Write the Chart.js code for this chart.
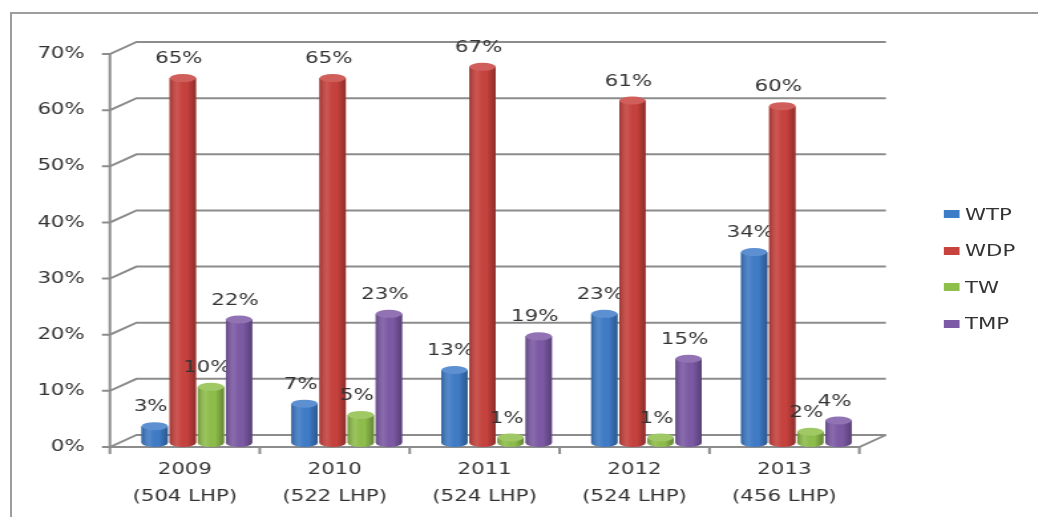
<!DOCTYPE html>
<html>
<head>
<meta charset="utf-8">
<title>WTP / WDP / TW / TMP 2009-2013</title>
<script src="https://cdn.jsdelivr.net/npm/chart.js@4.4.0/dist/chart.umd.min.js"></script>
<style>
    html, body { margin: 0; padding: 0; background: #fff; overflow: hidden; }
    body { width: 1038px; height: 517px; position: relative; font-family: 'DejaVu Sans', Verdana, sans-serif; }
    #frame { position: absolute; left: 10px; top: 12px; width: 1100px; height: 600px;
             border-left: 2px solid #9d9d9d; border-top: 2px solid #9d9d9d; }
    /* the source picture is stretched sideways, so the whole chart is too */
    #stage { position: absolute; left: 0; top: 0; width: 781px; height: 517px;
             transform-origin: 0 0; transform: scaleX(1.329); }
    #legend { position: absolute; left: 709.5px; top: 195.75px; margin: 0; padding: 0; list-style: none; }
    #legend li { height: 36.5px; display: flex; align-items: center; font-size: 16px; color: #333; }
    #legend span.box { width: 12.8px; height: 8px; margin-right: 3.8px; display: inline-block; }
</style>
</head>
<body>
<div id="frame"></div>
<div id="stage">
    <canvas id="chart" width="781" height="517"></canvas>
    <ul id="legend"></ul>
</div>
<script>
// data
const years = ['2009', '2010', '2011', '2012', '2013'];
const plants = ['(504 LHP)', '(522 LHP)', '(524 LHP)', '(524 LHP)', '(456 LHP)'];
const wtp = [3, 7, 13, 23, 34];
const wdp = [65, 65, 67, 61, 60];
const tw = [10, 5, 1, 1, 2];
const tmp = [22, 23, 19, 15, 4];
const yTicks = [0, 10, 20, 30, 40, 50, 60, 70];

const seriesNames = ['WTP', 'WDP', 'TW', 'TMP'];
const seriesValues = [wtp, wdp, tw, tmp];
const seriesColors = ['#3f7cc8', '#c8423e', '#8fbf4b', '#7d5aa6'];

// 3D look (canvas units, x is later stretched by 1.329)
const DEPTH_X = 20;
const DEPTH_Y = 12;
const BAR_SHIFT_X = 9;
const BAR_SHIFT_Y = -4;
const CAP = 4;
const TEXT = '#333';
const FONT = "'DejaVu Sans', Verdana, sans-serif";

Chart.defaults.font.family = FONT;

function lighten(hex, amt) {
    const n = parseInt(hex.slice(1), 16);
    const r = (n >> 16) & 255, g = (n >> 8) & 255, b = n & 255;
    const f = c => Math.round(c + (255 - c) * amt);
    return `rgb(${f(r)}, ${f(g)}, ${f(b)})`;
}

// back wall grid + floor, then shift the bars into the depth
const wallPlugin = {
    id: 'wall',
    beforeDatasetsDraw(chart) {
        const ctx = chart.ctx;
        const ys = chart.scales.y, xs = chart.scales.x;
        const { left, right } = chart.chartArea;
        ctx.save();
        ctx.strokeStyle = '#8c8c8c';
        ctx.lineWidth = 2;
        yTicks.forEach(v => {
            const y = ys.getPixelForValue(v);
            ctx.beginPath();
            ctx.moveTo(left - 6, y);
            ctx.lineTo(left, y);
            ctx.lineTo(left + DEPTH_X, y - DEPTH_Y);
            ctx.lineTo(right + DEPTH_X, y - DEPTH_Y);
            ctx.stroke();
        });
        const y0 = ys.getPixelForValue(0);
        const yTop = ys.getPixelForValue(yTicks[yTicks.length - 1]);
        ctx.beginPath();
        ctx.moveTo(left, yTop);
        ctx.lineTo(left, y0);
        ctx.lineTo(right, y0);
        ctx.lineTo(right + DEPTH_X, y0 - DEPTH_Y);
        ctx.stroke();
        for (let i = 0; i <= years.length; i++) {
            const x = xs.getPixelForValue(i - 0.5);
            ctx.beginPath();
            ctx.moveTo(x, y0);
            ctx.lineTo(x, y0 + 7);
            ctx.stroke();
        }
        ctx.restore();

        ctx.save();
        ctx.translate(BAR_SHIFT_X, BAR_SHIFT_Y);
    },
    afterDatasetsDraw(chart) {
        const ctx = chart.ctx;
        chart.data.datasets.forEach((ds, di) => {
            const color = seriesColors[di];
            chart.getDatasetMeta(di).data.forEach((bar, i) => {
                const w = bar.width, x0 = bar.x - w / 2, x1 = bar.x + w / 2;
                const top = bar.y, base = bar.base;

                // body with rounded bottom
                ctx.beginPath();
                ctx.moveTo(x0, top);
                ctx.lineTo(x0, base);
                ctx.ellipse(bar.x, base, w / 2, CAP, 0, Math.PI, 0, true);
                ctx.lineTo(x1, top);
                ctx.closePath();
                ctx.fillStyle = color;
                ctx.fill();
                const g = ctx.createLinearGradient(x0, 0, x1, 0);
                g.addColorStop(0, 'rgba(0,0,0,0.22)');
                g.addColorStop(0.3, 'rgba(255,255,255,0.10)');
                g.addColorStop(0.65, 'rgba(0,0,0,0)');
                g.addColorStop(1, 'rgba(0,0,0,0.30)');
                ctx.fillStyle = g;
                ctx.fill();

                // top cap
                ctx.beginPath();
                ctx.ellipse(bar.x, top, w / 2, CAP, 0, 0, Math.PI * 2);
                ctx.fillStyle = lighten(color, 0.15);
                ctx.fill();

                // value label
                ctx.fillStyle = TEXT;
                ctx.font = `16px ${FONT}`;
                ctx.textAlign = 'center';
                ctx.textBaseline = 'middle';
                ctx.fillText(seriesValues[di][i] + '%', bar.x - 3, top - 19);
            });
        });
        ctx.restore();
    }
};

const legend = document.getElementById('legend');
legend.innerHTML = seriesNames.map((name, i) =>
    `<li><span class="box" style="background:${seriesColors[i]}"></span>${name}</li>`
).join('');

new Chart(document.getElementById('chart'), {
    type: 'bar',
    data: {
        labels: years.map((y, i) => [y, plants[i]]),
        datasets: seriesNames.map((name, i) => ({
            label: name,
            data: seriesValues[i],
            backgroundColor: seriesColors[i],
            borderWidth: 0,
            categoryPercentage: 0.75,
            barPercentage: 0.93
        }))
    },
    options: {
        responsive: false,
        animation: false,
        layout: { padding: { left: 0, right: 134.4, top: 54, bottom: 0 } },
        plugins: {
            legend: { display: false },
            tooltip: { enabled: false }
        },
        scales: {
            x: {
                grid: { display: false, drawTicks: false },
                border: { display: false },
                ticks: {
                    color: TEXT,
                    padding: 9.5,
                    maxRotation: 0,
                    autoSkip: false,
                    font: { size: 16, lineHeight: 1.69 }
                },
                afterFit(scale) { scale.height = 70; }
            },
            y: {
                min: 0,
                max: 70,
                grid: { display: false, drawTicks: false },
                border: { display: false },
                ticks: {
                    stepSize: 10,
                    color: TEXT,
                    padding: 19,
                    font: { size: 16 },
                    callback: v => v + '%'
                },
                afterFit(scale) { scale.width = 82.7; }
            }
        }
    },
    plugins: [wallPlugin]
});
</script>
</body>
</html>
